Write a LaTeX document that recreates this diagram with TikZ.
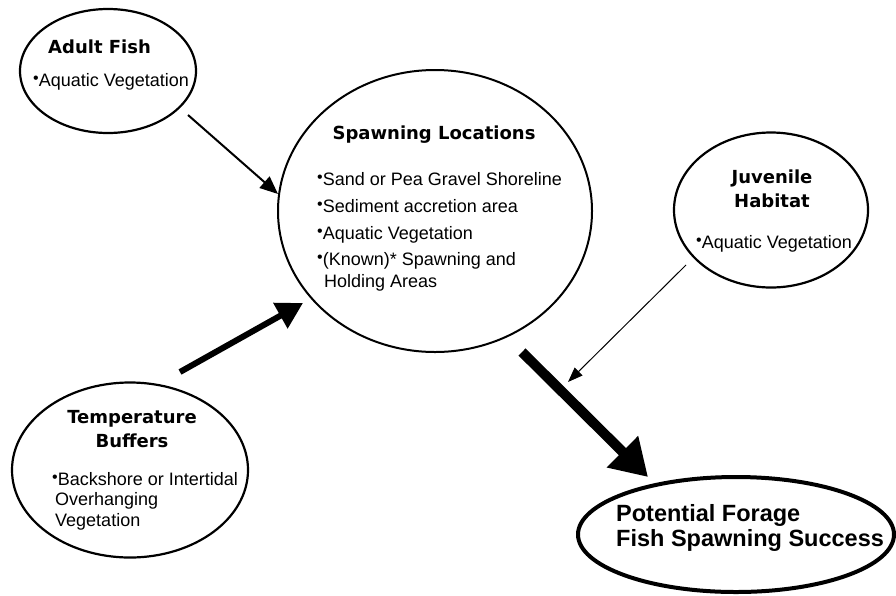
\documentclass[tikz,border=0pt]{standalone}
\usepackage{fontspec}
\setmainfont{Liberation Sans}
\newfontfamily\headfont{DejaVu Sans}
\usetikzlibrary{shapes.geometric,arrows.meta}

% small raised bullet used in front of each list entry
\newcommand\itemdot{{\fontsize{16}{16}\selectfont\raisebox{2.5pt}{\textbullet}}}

\begin{document}
\begin{tikzpicture}[x=1pt,y=-1pt,
  bubble/.style={draw, ellipse, inner sep=0pt, line width=2.2pt},
  heading/.style={font=\headfont\bfseries\fontsize{18}{21}\selectfont, inner sep=0pt, anchor=base},
  item/.style={font=\fontsize{18}{21}\selectfont, inner sep=0pt, anchor=base west},
  goal/.style={font=\bfseries\fontsize{23.5}{28}\selectfont, inner sep=0pt, anchor=base west},
  link/.style={line width=#1, line cap=butt}
]
\useasboundingbox (0,0) rectangle (896,595);

% ---- ellipses ----
\node[bubble, minimum width=176pt, minimum height=124pt] (adult) at (108,71) {};
\node[bubble, line width=2pt, minimum width=314pt, minimum height=282pt] (spawn) at (435,211) {};
\node[bubble, minimum width=194pt, minimum height=155pt] (juv) at (771,210) {};
\node[bubble, minimum width=236pt, minimum height=175pt] (temp) at (130,470) {};
\node[bubble, line width=4pt, minimum width=316pt, minimum height=115pt] (goal) at (736,534.5) {};

% ---- Adult Fish ----
\node[heading, anchor=base west] (adultT) at (48,53) {Adult Fish};
\node[item] (adultI) at (33,86) {\itemdot Aquatic Vegetation};

% ---- Spawning Locations ----
\node[heading] (spawnT) at (434,139) {Spawning Locations};
\node[item] (spawnA) at (317,185) {\itemdot Sand or Pea Gravel Shoreline};
\node[item] (spawnB) at (317,212) {\itemdot Sediment accretion area};
\node[item] (spawnC) at (317,239) {\itemdot Aquatic Vegetation};
\node[item] (spawnD) at (317,265) {\itemdot (Known)* Spawning and};
\node[item] (spawnE) at (324,287) {Holding Areas};

% ---- Juvenile Habitat ----
\node[heading] (juvT1) at (772,183) {Juvenile};
\node[heading] (juvT2) at (772,207) {Habitat};
\node[item] (juvI) at (696,248) {\itemdot Aquatic Vegetation};

% ---- Temperature Buffers ----
\node[heading] (tempT1) at (132,423) {Temperature};
\node[heading] (tempT2) at (132,447) {Buffers};
\node[item] (tempA) at (52,485) {\itemdot Backshore or Intertidal};
\node[item] (tempB) at (55,505) {Overhanging};
\node[item] (tempC) at (55,526) {Vegetation};

% ---- outcome ----
\node[goal] (goalA) at (616,521) {Potential Forage};
\node[goal] (goalB) at (616,546) {Fish Spawning Success};

% ---- connectors ----
\coordinate (adultOut) at (188,115);
\coordinate (spawnInA) at (278,194);
\coordinate (tempOut) at (180,372);
\coordinate (spawnInT) at (303,303);
\coordinate (juvOut) at (686,265);
\coordinate (juvEnd) at (568,382);
\coordinate (spawnOut) at (522,352);
\coordinate (goalIn) at (648,477);

\draw[link=2pt, -{Triangle[length=18pt,width=15pt]}] (adultOut) -- (spawnInA);
\draw[link=6pt, -{Triangle[length=26pt,width=28pt]}] (tempOut) -- (spawnInT);
\draw[link=1pt, -{Triangle[length=15pt,width=11pt]}] (juvOut) -- (juvEnd);
\draw[link=10pt, -{Triangle[length=36pt,width=42pt]}] (spawnOut) -- (goalIn);
\end{tikzpicture}
\end{document}
